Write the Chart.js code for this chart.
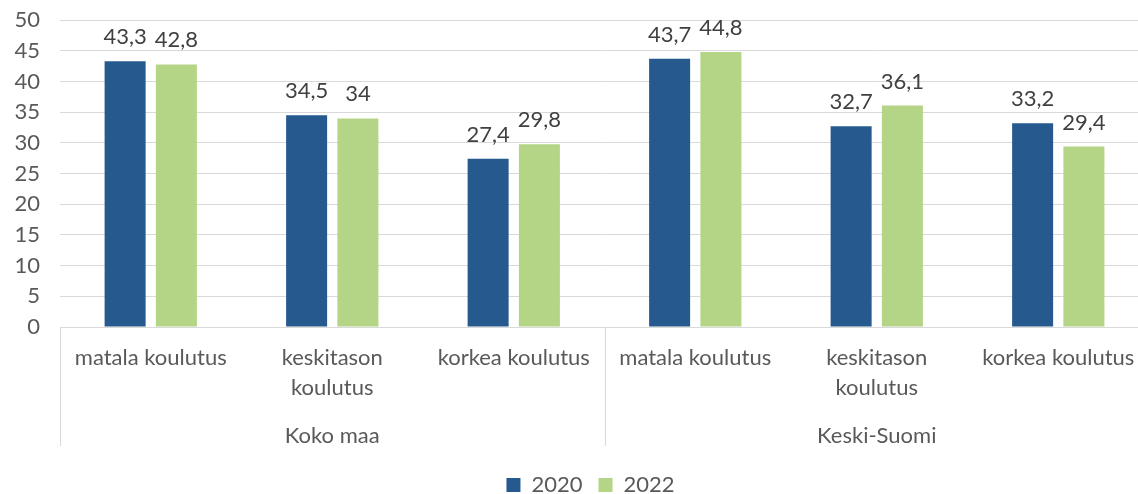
<!DOCTYPE html>
<html>
<head>
<meta charset="utf-8">
<script src="https://cdn.jsdelivr.net/npm/chart.js@4/dist/chart.umd.min.js"></script>
<style>
  html, body { margin: 0; padding: 0; background: #fff; overflow: hidden; }
  #wrap { width: 1180px; height: 519px; margin-top: -13px; }
</style>
</head>
<body>
<div id="wrap"><canvas id="myChart" width="1180" height="519"></canvas></div>
<script>
var groups = ['Koko maa', 'Keski-Suomi'];
var categories = [
    ['matala koulutus'], ['keskitason', 'koulutus'], ['korkea koulutus'],
    ['matala koulutus'], ['keskitason', 'koulutus'], ['korkea koulutus']
];
var values2020 = [43.3, 34.5, 27.4, 43.7, 32.7, 33.2];
var values2022 = [42.8, 34, 29.8, 44.8, 36.1, 29.4];
var seriesNames = ['2020', '2022'];
var colors = ['#265A8F', '#B3D585'];

var fontFamily = 'Lato, "Open Sans", sans-serif';
var fontSize = 22;
var textColor = '#595959';

// value labels above the bars, finnish decimal comma
var valueLabels = {
    id: 'valueLabels',
    afterDatasetsDraw: function(chart) {
        var ctx = chart.ctx;
        ctx.save();
        ctx.font = fontSize + 'px ' + fontFamily;
        ctx.fillStyle = '#404040';
        ctx.textAlign = 'center';
        ctx.textBaseline = 'bottom';
        chart.data.datasets.forEach(function(ds, i) {
            chart.getDatasetMeta(i).data.forEach(function(bar, j) {
                ctx.fillText(String(ds.data[j]).replace('.', ','), bar.x, bar.y - 13);
            });
        });
        ctx.restore();
    }
};

// group labels and separators under the category axis
var groupAxis = {
    id: 'groupAxis',
    afterDraw: function(chart) {
        var ctx = chart.ctx;
        var x = chart.scales.x;
        var top = chart.chartArea.bottom;
        var bottom = top + 119;
        var per = categories.length / groups.length;
        ctx.save();
        ctx.strokeStyle = '#d9d9d9';
        ctx.lineWidth = 1;
        for (var g = 0; g <= groups.length; g++) {
            var xx;
            if (g === 0) xx = chart.chartArea.left;
            else if (g === groups.length) xx = chart.chartArea.right;
            else xx = (x.getPixelForValue(g * per - 1) + x.getPixelForValue(g * per)) / 2;
            xx = Math.round(xx) + 0.5;
            ctx.beginPath();
            ctx.moveTo(xx, top);
            ctx.lineTo(xx, bottom);
            ctx.stroke();
        }
        ctx.font = fontSize + 'px ' + fontFamily;
        ctx.fillStyle = textColor;
        ctx.textAlign = 'center';
        ctx.textBaseline = 'middle';
        groups.forEach(function(name, g) {
            var cx = (x.getPixelForValue(g * per) + x.getPixelForValue(g * per + per - 1)) / 2;
            ctx.fillText(name, cx, top + 109);
        });
        ctx.restore();
    }
};

// center the legend on the whole canvas, not on the padded box
var legendShift = {
    id: 'legendShift',
    afterLayout: function(chart) {
        var shift = Math.round(chart.options.layout.padding.right / 2);
        chart.legend.left += shift;
        chart.legend.right += shift;
    }
};

var ctx = document.getElementById('myChart').getContext('2d');
var chart = new Chart(ctx, {
    type: 'bar',
    data: {
        labels: categories,
        datasets: [{
            label: seriesNames[0],
            data: values2020,
            backgroundColor: colors[0]
        }, {
            label: seriesNames[1],
            data: values2022,
            backgroundColor: colors[1]
        }]
    },
    options: {
        responsive: false,
        animation: false,
        barPercentage: 0.8,
        categoryPercentage: 0.565,
        layout: { padding: { top: 0, right: 31, left: 0, bottom: 0 } },
        plugins: {
            legend: {
                position: 'bottom',
                labels: {
                    boxWidth: 14,
                    boxHeight: 14,
                    padding: 16,
                    color: textColor,
                    font: { family: fontFamily, size: fontSize }
                }
            },
            tooltip: { enabled: false }
        },
        scales: {
            x: {
                grid: { display: false, drawTicks: false },
                border: { display: false },
                ticks: {
                    color: textColor,
                    padding: 16,
                    maxRotation: 0,
                    autoSkip: false,
                    font: { family: fontFamily, size: fontSize, lineHeight: 1.36 }
                },
                afterFit: function(scale) { scale.height = 131; }
            },
            y: {
                min: 0,
                max: 50,
                ticks: {
                    stepSize: 5,
                    color: textColor,
                    padding: 20,
                    font: { family: fontFamily, size: fontSize }
                },
                grid: { color: '#d9d9d9', drawTicks: false },
                border: { display: false },
                afterFit: function(scale) { scale.width = 60; }
            }
        }
    },
    plugins: [valueLabels, groupAxis, legendShift]
});
</script>
</body>
</html>
